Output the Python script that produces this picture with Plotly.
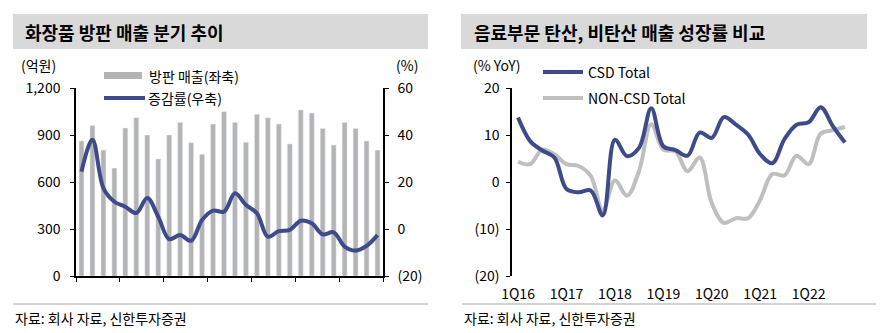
import plotly.graph_objects as go

# Quarterly categories 1Q16 ... 4Q22
quarters = [f"{q}Q{y}" for y in range(16, 23) for q in range(1, 5)]
year_labels = ["1Q16", "1Q17", "1Q18", "1Q19", "1Q20", "1Q21", "1Q22"]

# Left panel: door-to-door cosmetics sales (KRW 100m) and YoY growth (%)
sales = [862, 960, 804, 689, 945, 1010, 900, 747,
         900, 979, 851, 777, 970, 1049, 980, 853,
         1032, 1010, 970, 843, 1060, 1040, 942, 836,
         980, 942, 862, 804]
growth = [24.4, 38.0, 17.4, 11.6, 9.5, 6.8, 13.2, 5.2,
          -4.3, -2.6, -5.0, 3.8, 7.8, 7.4, 15.2, 10.2,
          6.7, -3.3, -0.9, -0.4, 3.5, 2.4, -2.3, -1.4,
          -7.5, -9.2, -7.2, -2.6]

# Right panel: beverage segment YoY growth (%)
csd_total = [13.7, 8.7, 6.7, 5.2, -1.5, -2.2, -1.8, -7.1,
             9.0, 5.5, 7.3, 15.7, 7.6, 6.8, 5.6, 10.5,
             9.4, 13.8, 12.2, 10.1, 5.9, 4.0, 9.1, 12.2,
             12.7, 15.9, 11.9, 8.4]
non_csd_total = [4.3, 3.8, 6.9, 5.9, 3.8, 3.4, 1.3, -6.0,
                 0.3, -2.9, 2.4, 12.3, 6.9, 6.5, 2.3, 5.2,
                 -4.5, -8.7, -7.7, -7.7, -3.8, 1.7, 1.4, 5.6,
                 3.8, 10.3, 11.0, 11.7]

W, H = 887, 333
BLUE = "#3d4b8a"
BAR_GRAY = "#b4b4b4"
LINE_GRAY = "#bfbfbf"
FONT = "Noto Sans CJK KR"


def px(x):
    return x / W


def py(y):
    return (H - y) / H


idx = list(range(len(quarters)))
x_range = [-0.5, len(quarters) - 0.5]
boundaries = [i - 0.5 for i in range(0, len(quarters) + 1, 4)]
label_pos = [i for i in range(0, len(quarters), 4)]

fig = go.Figure()

fig.add_trace(go.Bar(x=idx, y=sales, marker_color=BAR_GRAY, width=0.45,
                     xaxis="x", yaxis="y", hovertext=quarters, name="방판 매출(좌축)"))
fig.add_trace(go.Scatter(x=idx, y=growth, mode="lines", line=dict(color=BLUE, width=4, shape="spline", smoothing=1.0),
                         xaxis="x", yaxis="y2", hovertext=quarters, name="증감률(우축)"))
fig.add_trace(go.Scatter(x=idx, y=non_csd_total, mode="lines",
                         line=dict(color=LINE_GRAY, width=4, shape="spline", smoothing=1.0),
                         xaxis="x2", yaxis="y3", hovertext=quarters, name="NON-CSD Total"))
fig.add_trace(go.Scatter(x=idx, y=csd_total, mode="lines",
                         line=dict(color=BLUE, width=4, shape="spline", smoothing=1.0),
                         xaxis="x2", yaxis="y3", hovertext=quarters, name="CSD Total"))

tick_font = dict(family=FONT, size=14, color="#000000")
y_dom = [py(276), py(88)]
left_dom = [px(76), px(383)]
right_dom = [px(512), px(851)]

common = dict(automargin=False, showgrid=False, zeroline=False)

fig.update_layout(
    width=W, height=H, margin=dict(l=0, r=0, t=0, b=0),
    paper_bgcolor="white", plot_bgcolor="white",
    showlegend=False, bargap=0.5,
    font=dict(family=FONT, size=13, color="#000000"),
    # left panel axes
    xaxis=dict(domain=left_dom, range=x_range, anchor="y", tickmode="array", tickvals=boundaries,
               showticklabels=False, showline=True, linecolor="#000000", linewidth=1.5,
               ticks="outside", ticklen=4, tickcolor="#000000", **common),
    xaxis3=dict(domain=left_dom, range=x_range, overlaying="x", anchor="y", tickmode="array",
                tickvals=label_pos, ticktext=year_labels, showline=False, ticks="",
                ticklabelstandoff=8, tickfont=tick_font, **common),
    yaxis=dict(domain=y_dom, range=[0, 1200], anchor="x", tickmode="array",
               tickvals=[0, 300, 600, 900, 1200], ticktext=["0", "300", "600", "900", "1,200"],
               showline=True, linecolor="#000000", linewidth=1.5, ticks="outside", ticklen=4,
               tickcolor="#000000", ticklabelstandoff=7, tickfont=tick_font, **common),
    yaxis2=dict(range=[-20, 60], overlaying="y", side="right", anchor="x", tickmode="array",
                tickvals=[-20, 0, 20, 40, 60], ticktext=["(20)", "0", "20", "40", "60"],
                showline=True, linecolor="#000000", linewidth=1.5, ticks="outside", ticklen=4,
                tickcolor="#000000", ticklabelstandoff=6, tickfont=tick_font, **common),
    # right panel axes
    xaxis2=dict(domain=right_dom, range=x_range, anchor="y3", tickmode="array",
                tickvals=label_pos, ticktext=year_labels, showline=False, ticks="",
                ticklabelstandoff=8, tickfont=tick_font, **common),
    xaxis4=dict(domain=right_dom, range=x_range, overlaying="x2", anchor="free", position=py(183),
                tickmode="array", tickvals=boundaries, showticklabels=False, showline=True,
                linecolor="#000000", linewidth=1.5, ticks="outside", ticklen=4, tickcolor="#000000",
                **common),
    yaxis3=dict(domain=y_dom, range=[-20, 20], anchor="x2", tickmode="array",
                tickvals=[-20, -10, 0, 10, 20], ticktext=["(20)", "(10)", "0", "10", "20"],
                showline=True, linecolor="#000000", linewidth=1.5, ticks="outside", ticklen=4,
                tickcolor="#000000", ticklabelstandoff=4, tickfont=tick_font, **common),
)

shapes = []
annotations = []

# Title bars
for x0, x1, x_text, title in [(13, 428, 23, "화장품 방판 매출 분기 추이"),
                              (461, 867, 472, "음료부문 탄산, 비탄산 매출 성장률 비교")]:
    shapes.append(dict(type="rect", xref="paper", yref="paper", x0=px(x0), x1=px(x1),
                       y0=py(49), y1=py(14), fillcolor="#d9d9d9", line=dict(width=0), layer="below"))
    annotations.append(dict(text=f"<b>{title}</b>", xref="paper", yref="paper", x=px(x_text), y=py(31.5),
                            xanchor="left", yanchor="middle", showarrow=False,
                            font=dict(family=FONT, size=18, color="#000000")))

# Footer rules and source notes
for x0, x1 in [(13, 428), (462, 876)]:
    shapes.append(dict(type="line", xref="paper", yref="paper", x0=px(x0), x1=px(x1),
                       y0=py(304), y1=py(304), line=dict(color="#a6a6a6", width=1)))
    annotations.append(dict(text="자료: 회사 자료, 신한투자증권", xref="paper", yref="paper", x=px(x0), y=py(318),
                            xanchor="left", yanchor="middle", showarrow=False,
                            font=dict(family=FONT, size=14, color="#000000")))

# Unit labels
for x, text in [(38, "(억원)"), (407, "(%)"), (496, "(% YoY)")]:
    annotations.append(dict(text=text, xref="paper", yref="paper", x=px(x), y=py(65),
                            xanchor="center", yanchor="middle", showarrow=False,
                            font=dict(family=FONT, size=14, color="#000000")))

# Legends
shapes.append(dict(type="rect", xref="paper", yref="paper", x0=px(104), x1=px(142), y0=py(79), y1=py(72),
                   fillcolor=BAR_GRAY, line=dict(width=0)))
shapes.append(dict(type="line", xref="paper", yref="paper", x0=px(104), x1=px(145), y0=py(98), y1=py(98),
                   line=dict(color=BLUE, width=4)))
shapes.append(dict(type="line", xref="paper", yref="paper", x0=px(543), x1=px(583), y0=py(72), y1=py(72),
                   line=dict(color=BLUE, width=4)))
shapes.append(dict(type="line", xref="paper", yref="paper", x0=px(543), x1=px(583), y0=py(98), y1=py(98),
                   line=dict(color=LINE_GRAY, width=4)))
for x, y, text in [(147, 76, "방판 매출(좌축)"), (146, 98, "증감률(우축)"),
                   (586, 72, "CSD Total"), (586, 98, "NON-CSD Total")]:
    annotations.append(dict(text=text, xref="paper", yref="paper", x=px(x), y=py(y),
                            xanchor="left", yanchor="middle", showarrow=False,
                            font=dict(family=FONT, size=14, color="#000000")))

fig.update_layout(shapes=shapes, annotations=annotations)
fig.write_html("out.html")
